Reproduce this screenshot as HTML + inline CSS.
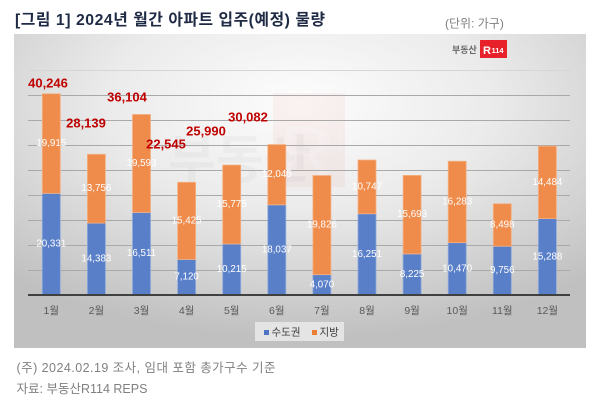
<!DOCTYPE html>
<html><head><meta charset="utf-8">
<style>
html,body{margin:0;padding:0;background:#fff;}
body{width:600px;height:408px;overflow:hidden;font-family:"Liberation Sans","Noto Sans CJK KR",sans-serif;}
svg{display:block;}
</style></head>
<body>
<svg width="600" height="408" viewBox="0 0 600 408" xmlns="http://www.w3.org/2000/svg" font-family="'Liberation Sans', 'Noto Sans CJK KR', sans-serif">
<defs>
<radialGradient id="bg" cx="50%" cy="22%" r="75%">
<stop offset="0" stop-color="#fdfdfd"/>
<stop offset="0.45" stop-color="#ebebeb"/>
<stop offset="1" stop-color="#c0c0c0"/>
</radialGradient>
</defs>
<!-- title -->
<text x="15" y="25" font-size="15.8" font-weight="bold" fill="#1f2a44" textLength="310" lengthAdjust="spacing">[그림 1] 2024년 월간 아파트 입주(예정) 물량</text>
<text x="445" y="27.5" font-size="12" fill="#7f7f7f">(단위: 가구)</text>
<!-- box -->
<rect x="14" y="34" width="572" height="314" fill="url(#bg)"/>
<!-- watermark -->
<rect x="273" y="93" width="72" height="94" fill="#e04040" opacity="0.06"/>
<text x="168" y="178" font-size="52" font-weight="bold" fill="#999" opacity="0.07">부동산</text>
<text x="280" y="175" font-size="70" fill="#fff" opacity="0.18">R</text>
<text x="320" y="150" font-size="26" fill="#fff" opacity="0.18">114</text>
<!-- logo -->
<text x="452" y="53" font-size="9" font-weight="bold" fill="#6a6a6a">부동산</text>
<rect x="480" y="40" width="27" height="18" fill="#e8202a"/>
<text x="483" y="54" font-size="11" font-weight="bold" fill="#fff">R</text>
<text x="491.5" y="53" font-size="7.5" font-weight="bold" fill="#fff">114</text>
<!-- gridlines -->
<g stroke="#a9a9a9" stroke-width="1">
<line x1="28" y1="70.5" x2="570" y2="70.5" stroke="#d6d6d6"/>
<line x1="28" y1="95.5" x2="570" y2="95.5"/>
<line x1="28" y1="120.5" x2="570" y2="120.5"/>
<line x1="28" y1="145.5" x2="570" y2="145.5"/>
<line x1="28" y1="170.5" x2="570" y2="170.5"/>
<line x1="28" y1="195.5" x2="570" y2="195.5"/>
<line x1="28" y1="220.5" x2="570" y2="220.5"/>
<line x1="28" y1="245.5" x2="570" y2="245.5"/>
<line x1="28" y1="270.5" x2="570" y2="270.5"/>
</g>
<!-- bars -->
<g stroke-width="0.8">
<rect x="42.3" y="193.35" width="18" height="101.65" fill="#5a7fc9" stroke="#8eaadb"/>
<rect x="42.3" y="93.77" width="18" height="99.58" fill="#ef8c4c" stroke="#f4b183"/>
<rect x="87.4" y="223.09" width="18" height="71.91" fill="#5a7fc9" stroke="#8eaadb"/>
<rect x="87.4" y="154.31" width="18" height="68.78" fill="#ef8c4c" stroke="#f4b183"/>
<rect x="132.5" y="212.45" width="18" height="82.55" fill="#5a7fc9" stroke="#8eaadb"/>
<rect x="132.5" y="114.48" width="18" height="97.97" fill="#ef8c4c" stroke="#f4b183"/>
<rect x="177.6" y="259.4" width="18" height="35.6" fill="#5a7fc9" stroke="#8eaadb"/>
<rect x="177.6" y="182.28" width="18" height="77.12" fill="#ef8c4c" stroke="#f4b183"/>
<rect x="222.7" y="243.93" width="18" height="51.07" fill="#5a7fc9" stroke="#8eaadb"/>
<rect x="222.7" y="165.05" width="18" height="78.88" fill="#ef8c4c" stroke="#f4b183"/>
<rect x="267.8" y="204.82" width="18" height="90.18" fill="#5a7fc9" stroke="#8eaadb"/>
<rect x="267.8" y="144.59" width="18" height="60.23" fill="#ef8c4c" stroke="#f4b183"/>
<rect x="312.9" y="274.65" width="18" height="20.35" fill="#5a7fc9" stroke="#8eaadb"/>
<rect x="312.9" y="175.52" width="18" height="99.13" fill="#ef8c4c" stroke="#f4b183"/>
<rect x="358" y="213.75" width="18" height="81.25" fill="#5a7fc9" stroke="#8eaadb"/>
<rect x="358" y="160.01" width="18" height="53.74" fill="#ef8c4c" stroke="#f4b183"/>
<rect x="403.1" y="253.88" width="18" height="41.12" fill="#5a7fc9" stroke="#8eaadb"/>
<rect x="403.1" y="175.41" width="18" height="78.47" fill="#ef8c4c" stroke="#f4b183"/>
<rect x="448.2" y="242.65" width="18" height="52.35" fill="#5a7fc9" stroke="#8eaadb"/>
<rect x="448.2" y="161.24" width="18" height="81.41" fill="#ef8c4c" stroke="#f4b183"/>
<rect x="493.3" y="246.22" width="18" height="48.78" fill="#5a7fc9" stroke="#8eaadb"/>
<rect x="493.3" y="203.73" width="18" height="42.49" fill="#ef8c4c" stroke="#f4b183"/>
<rect x="538.4" y="218.56" width="18" height="76.44" fill="#5a7fc9" stroke="#8eaadb"/>
<rect x="538.4" y="146.14" width="18" height="72.42" fill="#ef8c4c" stroke="#f4b183"/>
</g>
<!-- axis -->
<line x1="28" y1="295" x2="570" y2="295" stroke="#404040" stroke-width="2"/>
<!-- segment labels -->
<g font-size="9.8" fill="#fff" text-anchor="middle" dominant-baseline="central">
<text x="51.3" y="244.2">20,331</text><text x="51.3" y="143.6">19,915</text>
<text x="96.4" y="259">14,383</text><text x="96.4" y="188.7">13,756</text>
<text x="141.5" y="253.7">16,511</text><text x="141.5" y="163.5">19,593</text>
<text x="186.6" y="277.2">7,120</text><text x="186.6" y="220.8">15,425</text>
<text x="231.7" y="269.5">10,215</text><text x="231.7" y="204.5">15,775</text>
<text x="276.8" y="249.9">18,037</text><text x="276.8" y="174.7">12,045</text>
<text x="321.9" y="284.8">4,070</text><text x="321.9" y="225.1">19,826</text>
<text x="367" y="254.4">16,251</text><text x="367" y="186.9">10,747</text>
<text x="412.1" y="274.4">8,225</text><text x="412.1" y="214.6">15,693</text>
<text x="457.2" y="268.8">10,470</text><text x="457.2" y="202">16,283</text>
<text x="502.3" y="270.6">9,756</text><text x="502.3" y="225">8,498</text>
<text x="547.4" y="256.8">15,288</text><text x="547.4" y="182.4">14,484</text>
</g>
<!-- totals -->
<g font-size="13" font-weight="bold" fill="#c00000" text-anchor="middle" dominant-baseline="central">
<text x="48" y="83">40,246</text>
<text x="86" y="123">28,139</text>
<text x="127" y="97">36,104</text>
<text x="166" y="144">22,545</text>
<text x="206" y="131">25,990</text>
<text x="248" y="117">30,082</text>
</g>
<!-- category labels -->
<g font-size="10.5" fill="#595959" text-anchor="middle" dominant-baseline="central">
<text x="51.3" y="311">1월</text><text x="96.4" y="311">2월</text><text x="141.5" y="311">3월</text>
<text x="186.6" y="311">4월</text><text x="231.7" y="311">5월</text><text x="276.8" y="311">6월</text>
<text x="321.9" y="311">7월</text><text x="367" y="311">8월</text><text x="412.1" y="311">9월</text>
<text x="457.2" y="311">10월</text><text x="502.3" y="311">11월</text><text x="547.4" y="311">12월</text>
</g>
<!-- legend -->
<rect x="255" y="322" width="89" height="19" fill="#e4e4e4"/>
<rect x="264" y="330" width="5" height="5" fill="#4f74c4"/>
<text x="271.5" y="332.5" font-size="10.5" fill="#404040" dominant-baseline="central">수도권</text>
<rect x="312" y="330" width="5" height="5" fill="#ed7d31"/>
<text x="319.5" y="332.5" font-size="10.5" fill="#404040" dominant-baseline="central">지방</text>
<!-- footer -->
<text x="16.5" y="368" font-size="12.5" fill="#808080" dominant-baseline="central" textLength="259" lengthAdjust="spacing">(주) 2024.02.19 조사, 임대 포함 총가구수 기준</text>
<text x="16.5" y="389" font-size="12.5" fill="#808080" dominant-baseline="central">자료: 부동산R114 REPS</text>
</svg>
</body></html>
